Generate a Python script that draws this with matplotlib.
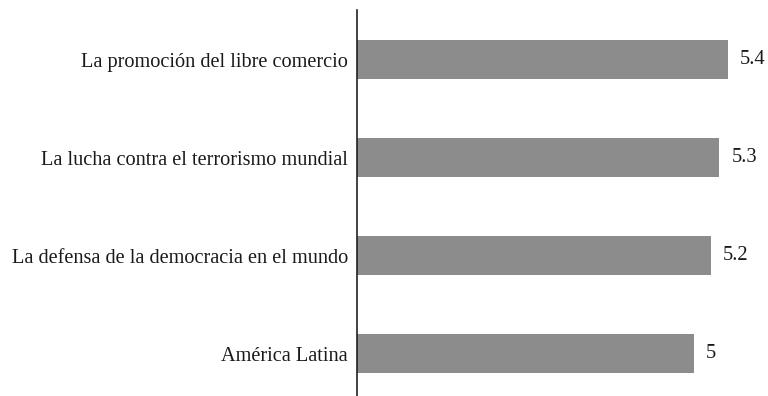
import matplotlib.pyplot as plt

categories = [
    "La promoción del libre comercio",
    "La lucha contra el terrorismo mundial",
    "La defensa de la democracia en el mundo",
    "América Latina",
]
values = [5.4, 5.3, 5.2, 5.0]
value_labels = ["5.4", "5.3", "5.2", "5"]

plt.rcParams['font.family'] = ['Liberation Serif', 'DejaVu Serif']

W, H = 768, 396
fig = plt.figure(figsize=(W / 100, H / 100), dpi=100)
# axes placed in pixels: left edge at the vertical line
left, right, top, bottom = 357, 757, 10, 396
ax = fig.add_axes([left / W, 1 - bottom / H, (right - left) / W, (bottom - top) / H])

y = list(range(len(categories)))
ax.barh(y, values, left=0, height=0.4, color="#8c8c8c")
ax.set_xlim(1, 1 + (right - left) / 84.3)
ax.set_ylim(3.43, -0.505)

for yi, v, lab in zip(y, values, value_labels):
    ax.text(v + 0.14, yi, lab, va="center", ha="left", fontsize=14.8, color="#1a1a1a")

ax.set_yticks(y)
ax.set_yticklabels(categories, fontsize=14.6, color="#1a1a1a")
ax.tick_params(axis="y", length=0, pad=6.5)
ax.set_xticks([])
for s in ["top", "right", "bottom"]:
    ax.spines[s].set_visible(False)
ax.spines["left"].set_color("#222222")
ax.spines["left"].set_linewidth(1.2)

fig.savefig("out.png", dpi=100)
